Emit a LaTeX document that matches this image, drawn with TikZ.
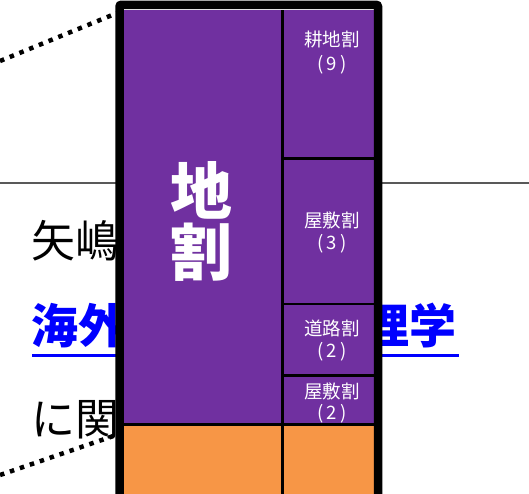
\documentclass[tikz,border=0pt]{standalone}
\usepackage{fontspec}
\setmainfont{Noto Sans CJK JP}
\definecolor{cellpurple}{HTML}{7030A0}
\definecolor{cellorange}{HTML}{F79646}
\definecolor{linkblue}{HTML}{0000FF}
\newcommand{\paren}[1]{(\kern3pt#1\kern3pt)}
\tikzset{
  bgtext/.style={anchor=west, inner sep=0pt, text=black, font=\fontsize{44}{50}\selectfont},
  linktext/.style={inner sep=0pt, text=linkblue, font=\fontsize{47}{50}\selectfont\bfseries},
  lbl/.style={inner sep=0pt, text=white, font=\fontsize{18.5}{20}\selectfont},
  bigtext/.style={inner sep=0pt, text=white, align=center, font=\fontsize{62}{62}\selectfont\bfseries},
  dots/.style={line width=4.5pt, dash pattern=on 4.5pt off 6pt},
  divider/.style={line width=2.8pt, black},
}
\begin{document}
\begin{tikzpicture}[x=1pt,y=-1pt]
\useasboundingbox (0,0) rectangle (529,493);
% background page elements
\draw[line width=1.3pt, black!65] (0,183) -- (529,183);
\node[bgtext] (t1) at (31,241) {矢嶋};
\node[linktext, anchor=west] (t2) at (31,326) {海外};
\node[linktext, anchor=east] (t3) at (457,326) {理学};
\draw[linkblue, line width=2.5pt] (32,355.5) -- (459,355.5);
\node[bgtext] (t4) at (31,420) {に関};
\coordinate (d1a) at (0,61);
\coordinate (d1b) at (122,11);
\coordinate (d2a) at (0,475);
\coordinate (d2b) at (122,433);
\draw[dots] (d1a) -- (d1b);
\draw[dots] (d2a) -- (d2b);
% cells
\fill[cellpurple] (124,10) rectangle (374,425);
\fill[cellorange] (124,425) rectangle (374,500);
\draw[divider] (282.5,10) -- (282.5,500);
\draw[divider] (282.5,158.5) -- (374,158.5);
\draw[divider] (282.5,304) -- (374,304);
\draw[divider] (282.5,375.7) -- (374,375.7);
\draw[divider] (124,424.8) -- (374,424.8);
% frame
\draw[line width=8.5pt, rounded corners=2pt] (119.5,520) -- (119.5,4.75) -- (378,4.75) -- (378,520);
% labels
\node[bigtext] (big1) at (201,190) {地};
\node[bigtext] (big2) at (201,252) {割};
\node[lbl] (l1) at (332,40) {耕地割};
\node[lbl] (l1n) at (332,65) {\paren{9}};
\node[lbl] (l2) at (332,220) {屋敷割};
\node[lbl] (l2n) at (332,243.5) {\paren{3}};
\node[lbl] (l3) at (332,328.5) {道路割};
\node[lbl] (l3n) at (332,352) {\paren{2}};
\node[lbl] (l4) at (332,391) {屋敷割};
\node[lbl] (l4n) at (332,413.5) {\paren{2}};
\end{tikzpicture}
\end{document}
